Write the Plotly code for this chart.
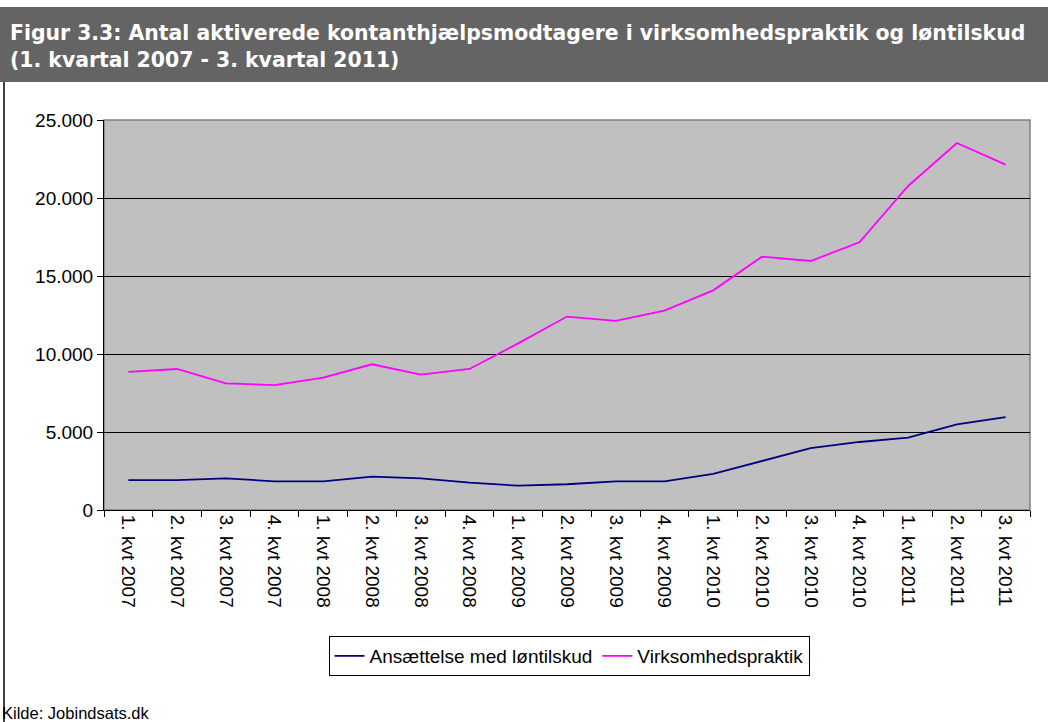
import plotly.graph_objects as go

categories = [
    "1. kvt 2007", "2. kvt 2007", "3. kvt 2007", "4. kvt 2007",
    "1. kvt 2008", "2. kvt 2008", "3. kvt 2008", "4. kvt 2008",
    "1. kvt 2009", "2. kvt 2009", "3. kvt 2009", "4. kvt 2009",
    "1. kvt 2010", "2. kvt 2010", "3. kvt 2010", "4. kvt 2010",
    "1. kvt 2011", "2. kvt 2011", "3. kvt 2011",
]
loentilskud = [1920, 1920, 2030, 1840, 1840, 2140, 2030, 1750, 1560, 1650,
               1840, 1840, 2310, 3140, 3970, 4360, 4640, 5490, 5960]
virksomhedspraktik = [8850, 9040, 8120, 8010, 8480, 9340, 8680, 9040, 10680, 12400,
                      12120, 12780, 14080, 16240, 15960, 17160, 20770, 23525, 22135]

series_names = ["Ansættelse med løntilskud", "Virksomhedspraktik"]
series_colors = ["#000080", "#FF00FF"]

title_text = ("Figur 3.3: Antal aktiverede kontanthjælpsmodtagere i virksomhedspraktik og løntilskud"
              "<br>(1. kvartal 2007 - 3. kvartal 2011)")
source_text = "Kilde: Jobindsats.dk"

W, H = 1048, 722
L, R, T, B = 104, 1030, 120, 510
pw, ph = R - L, B - T

def px(x):
    return (x - L) / pw

def py(y):
    return (B - y) / ph

FONT = "Arial, Liberation Sans, sans-serif"
TITLE_FONT = "DejaVu Sans, Arial, sans-serif"

fig = go.Figure()
for name, vals, col in zip(series_names, [loentilskud, virksomhedspraktik], series_colors):
    fig.add_trace(go.Scatter(x=categories, y=vals, name=name, mode="lines",
                             line=dict(color=col, width=1.8)))

fig.update_layout(
    width=W, height=H,
    margin=dict(l=L, r=W - R, t=T, b=H - B, autoexpand=False),
    paper_bgcolor="white",
    plot_bgcolor="#C0C0C0",
    separators=",.",
    font=dict(family=FONT, size=19, color="black"),
    showlegend=True,
    legend=dict(orientation="h", x=px(569), xanchor="center", y=py(636), yanchor="top",
                bordercolor="black", borderwidth=1, bgcolor="white",
                font=dict(family=FONT, size=19), tracegroupgap=0),
)

fig.update_xaxes(
    type="category", range=[-0.5, len(categories) - 0.5],
    showgrid=False, showline=True, linecolor="black", linewidth=1,
    ticks="outside", tickson="boundaries", ticklen=6, tickcolor="black",
    tickangle=90, tickfont=dict(family=FONT, size=19), zeroline=False, automargin=False,
)
fig.update_yaxes(
    range=[0, 25000], dtick=5000, tickformat=",d", showgrid=True, gridcolor="black",
    gridwidth=1, showline=True, linecolor="black", linewidth=1, ticks="outside",
    ticklen=6, tickcolor="black", tickfont=dict(family=FONT, size=19), zeroline=False,
    automargin=False,
)

# plot area border (gray top/right)
fig.add_shape(type="rect", xref="paper", yref="paper", x0=0, x1=1, y0=0, y1=1,
              line=dict(color="#808080", width=1.5), layer="below")
# title banner
fig.add_shape(type="rect", xref="paper", yref="paper", x0=px(0), x1=px(1048),
              y0=py(82), y1=py(7), fillcolor="#646464", line=dict(width=0), layer="below")
# left frame line
fig.add_shape(type="line", xref="paper", yref="paper", x0=px(4), x1=px(4),
              y0=py(82), y1=py(722), line=dict(color="black", width=1.5))

fig.add_annotation(xref="paper", yref="paper", x=px(8), y=py(46), xanchor="left", yanchor="middle",
                   text="<b>" + title_text + "</b>", showarrow=False, align="left",
                   font=dict(family=TITLE_FONT, size=20.4, color="white"))
fig.add_annotation(xref="paper", yref="paper", x=px(0), y=py(713), xanchor="left", yanchor="middle",
                   text=source_text, showarrow=False, align="left",
                   font=dict(family=FONT, size=16.5, color="black"))

fig.write_html("out.html", config={"displayModeBar": False},
               post_script="document.body.style.margin='0px';")
